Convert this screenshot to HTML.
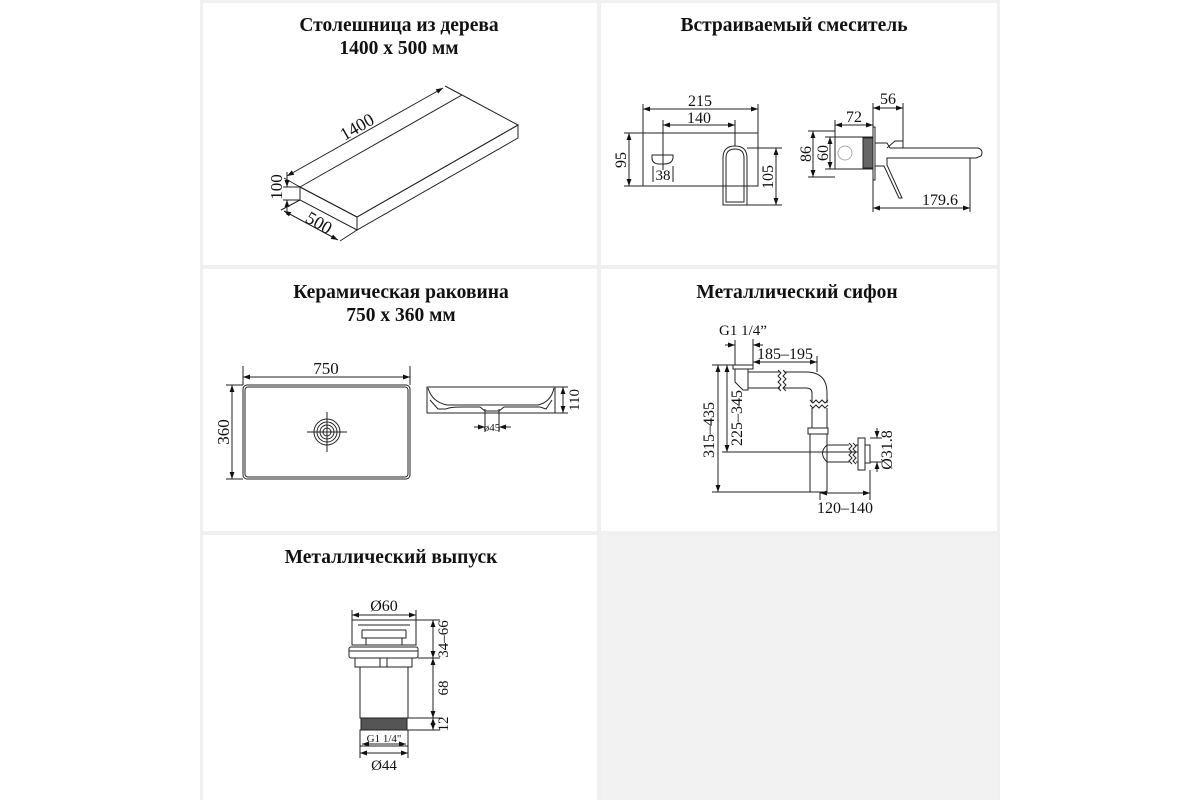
<!DOCTYPE html>
<html><head><meta charset="utf-8"><style>
html,body{margin:0;padding:0;background:#fff;}
svg{display:block}
text{font-family:"Liberation Serif",serif;fill:#111}
.t{font-weight:bold;font-size:19.5px}
.d{font-size:15px}
</style></head><body>
<svg width="1200" height="800" viewBox="0 0 1200 800">
<defs>
<marker id="a" viewBox="0 0 10 10" refX="10" refY="5" markerWidth="7" markerHeight="7" orient="auto-start-reverse"><path d="M0,1.5 L10,5 L0,8.5z" fill="#111"/></marker>
</defs>
<rect x="200" y="0" width="800" height="800" fill="#f0f0f0"/>
<rect x="203" y="3" width="394" height="262" fill="#fff"/>
<rect x="601" y="3" width="396" height="262" fill="#fff"/>
<rect x="203" y="269" width="394" height="262" fill="#fff"/>
<rect x="601" y="269" width="396" height="262" fill="#fff"/>
<rect x="203" y="535" width="394" height="265" fill="#fff"/>
<rect x="601" y="535" width="396" height="265" fill="#f2f2f2"/>

<g class="t" text-anchor="middle">
<text x="399" y="31">Столешница из дерева</text>
<text x="399" y="54">1400 x 500 мм</text>
<text x="794" y="31">Встраиваемый смеситель</text>
<text x="401" y="298">Керамическая раковина</text>
<text x="401" y="321">750 x 360 мм</text>
<text x="797" y="298">Металлический сифон</text>
<text x="391" y="563">Металлический выпуск</text>
</g>

<g fill="none" stroke="#222" stroke-width="1">
<path d="M300,187 L462,95 L518,125 L357,217 Z"/>
<path d="M300,187 L357,217 L357,230 L300,200 Z"/>
<path d="M357,217 L518,125 L518,138 L357,230 Z"/>
<path d="M462,95 L445,86 M300,187 L284,178"/>
<line x1="287" y1="176" x2="443" y2="88" marker-start="url(#a)" marker-end="url(#a)"/>
<path d="M300,187 L283,187 M300,200 L283,200"/>
<line x1="287" y1="172" x2="287" y2="187" marker-end="url(#a)"/>
<line x1="287" y1="215" x2="287" y2="200" marker-end="url(#a)"/>
<path d="M300,200 L281,210 M357,230 L340,241"/>
<line x1="284" y1="211" x2="338" y2="240" marker-start="url(#a)" marker-end="url(#a)"/>

<rect x="643" y="133" width="115" height="53"/>
<path d="M652,155 L673,155 L673,158 Q672,164 664,164 L658,164 Q652,163 652,158 Z"/>
<path d="M723,205 L723,158 Q723,146 735,146 Q747,146 747,158 L747,205 Z"/>
<path d="M726,202 L726,158 Q726,149 735,149 Q744,149 744,158 L744,202 Z"/>
<path d="M643,133 L643,104 M758,133 L758,104 M663,170 L663,120 M735,146 L735,120"/>
<line x1="643" y1="109" x2="758" y2="109" marker-start="url(#a)" marker-end="url(#a)"/>
<line x1="663" y1="125" x2="735" y2="125" marker-start="url(#a)" marker-end="url(#a)"/>
<path d="M643,133 L624,133 M643,186 L624,186"/>
<line x1="629" y1="133" x2="629" y2="186" marker-start="url(#a)" marker-end="url(#a)"/>
<path d="M747,148 L782,148 M747,205 L782,205"/>
<line x1="776" y1="148" x2="776" y2="205" marker-start="url(#a)" marker-end="url(#a)"/>
<path d="M653,166 L653,182 M673,166 L673,182"/>
<rect x="835" y="137" width="38" height="32"/>
<rect x="863" y="138" width="10" height="30" fill="#666"/>
<circle cx="845" cy="153" r="7" stroke="#aaa"/>
<rect x="873" y="127" width="2" height="53"/>
<path d="M875,143 L887,143 L890,148 L978,148 Q984,150 981,156 L976,158 L887,158 L887,165 L902,198 L899,198 L884,166 L875,166"/>
<path d="M887,148 L895,141 L903,141 L903,148"/>
<path d="M835,137 L835,120 M873,127 L873,103 M903,141 L903,103"/>
<line x1="835" y1="125" x2="873" y2="125" marker-start="url(#a)" marker-end="url(#a)"/>
<line x1="873" y1="108" x2="903" y2="108" marker-start="url(#a)" marker-end="url(#a)"/>
<path d="M835,131 L808,131 M835,177 L808,177 M835,137 L825,137 M835,169 L825,169"/>
<line x1="813" y1="131" x2="813" y2="177" marker-start="url(#a)" marker-end="url(#a)"/>
<line x1="830" y1="137" x2="830" y2="169" marker-start="url(#a)" marker-end="url(#a)"/>
<path d="M873,180 L873,212 M970,158 L970,212"/>
<line x1="873" y1="208" x2="970" y2="208" marker-start="url(#a)" marker-end="url(#a)"/>

<rect x="243" y="385" width="167" height="94" rx="4"/>
<rect x="245" y="387" width="163" height="90" rx="3"/>
<circle cx="327" cy="432" r="13"/><circle cx="327" cy="432" r="10"/><circle cx="327" cy="432" r="7"/><circle cx="327" cy="432" r="4"/>
<path d="M307,432 L347,432 M327,412 L327,452"/>
<path d="M243,385 L243,366 M410,385 L410,366"/>
<line x1="243" y1="377" x2="410" y2="377" marker-start="url(#a)" marker-end="url(#a)"/>
<path d="M243,385 L226,385 M243,479 L226,479"/>
<line x1="232" y1="385" x2="232" y2="479" marker-start="url(#a)" marker-end="url(#a)"/>
<path d="M427,387 L555,387 L555,413 L427,413 Z"/>
<path d="M428,388 Q432,402 447,405 L538,405 Q551,402 554,388"/>
<path d="M430,400 L438,409 L446,409 Q450,407 462,407 L480,407 L485,411 L499,411 L504,407 L540,407 L546,409 L552,400"/>
<path d="M555,387 L568,387 M555,413 L568,413"/>
<line x1="563" y1="387" x2="563" y2="413" marker-start="url(#a)" marker-end="url(#a)"/>
<path d="M485,409 L485,432 M499,409 L499,432"/>
<line x1="474" y1="427" x2="485" y2="427" marker-end="url(#a)"/>
<line x1="511" y1="427" x2="499" y2="427" marker-end="url(#a)"/>

<rect x="733" y="365" width="20" height="4"/>
<path d="M735,369 L735,382 L743,390 L748,390 L748,369"/>
<path d="M748,372 L780,372 M748,388 L780,388 M784,372 L806,372 Q827,372 827,393 L827,403 M812,403 L812,393 Q812,388 806,388 L784,388"/>
<path d="M778,370 l3,3 -3,3 3,3 -3,3 3,3 -3,3 3,3 M783,370 l3,3 -3,3 3,3 -3,3 3,3 -3,3 3,3"/>
<path d="M810,400 l3,3 3,-3 3,3 3,-3 3,3 3,-3 M810,405 l3,3 3,-3 3,3 3,-3 3,3 3,-3"/>
<path d="M812,408 L812,428 M827,408 L827,428"/>
<rect x="808" y="428" width="20" height="6"/>
<rect x="810" y="434" width="17" height="58"/>
<path d="M827,445 L849,445 M827,462 L849,462 M827,445 Q818,453 827,462"/>
<path d="M849,443 l3,3 -3,3 3,3 -3,3 3,3 -3,3 3,3 M853,443 l3,3 -3,3 3,3 -3,3 3,3 -3,3 3,3"/>
<path d="M856,445 L858,445 M856,462 L858,462"/>
<rect x="858" y="438" width="7" height="32"/>
<rect x="865" y="445" width="5" height="18"/>
<path d="M733,365 L712,365 M733,452 L722,452 M810,492 L712,492"/>
<line x1="718" y1="365" x2="718" y2="492" marker-start="url(#a)" marker-end="url(#a)"/>
<line x1="727" y1="365" x2="727" y2="452" marker-start="url(#a)" marker-end="url(#a)"/>
<path d="M722,452 L858,452"/>
<path d="M753,365 L753,339 M817,372 L817,356 M735,365 L735,340"/>
<line x1="753" y1="362" x2="817" y2="362" marker-start="url(#a)" marker-end="url(#a)"/>
<line x1="725" y1="345" x2="735" y2="345" marker-end="url(#a)"/>
<line x1="763" y1="345" x2="753" y2="345" marker-end="url(#a)"/>
<path d="M870,438 L882,438 M870,462 L882,462 M820,492 L820,500 M870,470 L870,500"/>
<line x1="877" y1="428" x2="877" y2="438" marker-end="url(#a)"/>
<line x1="877" y1="472" x2="877" y2="462" marker-end="url(#a)"/>
<line x1="820" y1="493" x2="870" y2="493" marker-start="url(#a)" marker-end="url(#a)"/>

<path d="M352,620 L416,620 L416,645 L352,645 Z"/>
<path d="M358,625 L410,625 M362,630 L406,630 M362,630 L362,638 L406,638 L406,630 M366,638 L366,645 M402,638 L402,645"/>
<rect x="349" y="647" width="69" height="11" rx="2"/>
<path d="M349,651 L418,651"/>
<rect x="355" y="658" width="57" height="9"/>
<path d="M380,658 L380,667 M387,658 L387,667"/>
<rect x="360" y="667" width="48" height="51"/>
<rect x="361" y="718" width="46" height="12" fill="#555"/>
<rect x="360" y="730" width="48" height="16"/>
<path d="M352,620 L352,610 M416,620 L416,610"/>
<line x1="352" y1="615" x2="416" y2="615" marker-start="url(#a)" marker-end="url(#a)"/>
<path d="M416,620 L440,620 M418,658 L440,658 M408,718 L440,718 M408,730 L440,730"/>
<line x1="433" y1="620" x2="433" y2="658" marker-start="url(#a)" marker-end="url(#a)"/>
<line x1="433" y1="658" x2="433" y2="718" marker-start="url(#a)" marker-end="url(#a)"/>
<line x1="433" y1="718" x2="433" y2="730" marker-start="url(#a)" marker-end="url(#a)"/>
<line x1="362" y1="744" x2="406" y2="744" marker-start="url(#a)" marker-end="url(#a)"/>
<path d="M360,746 L360,758 M408,746 L408,758"/>
<line x1="360" y1="753" x2="408" y2="753" marker-start="url(#a)" marker-end="url(#a)"/>
</g>

<g class="d" text-anchor="middle">
<text x="0" y="0" transform="translate(360,132) rotate(-30)" font-size="18">1400</text>
<text x="0" y="0" transform="translate(282,187) rotate(-90)" font-size="17">100</text>
<text x="0" y="0" transform="translate(316,228) rotate(30)" font-size="18">500</text>
<text x="700" y="106" font-size="16">215</text>
<text x="699" y="123" font-size="16">140</text>
<text x="663" y="180" font-size="15">38</text>
<text transform="translate(626,160) rotate(-90)" font-size="16">95</text>
<text transform="translate(773,177) rotate(-90)" font-size="16">105</text>
<text x="854" y="122" font-size="16">72</text>
<text x="888" y="104" font-size="16">56</text>
<text transform="translate(811,154) rotate(-90)" font-size="16">86</text>
<text transform="translate(828,153) rotate(-90)" font-size="16">60</text>
<text x="940" y="205" font-size="16">179.6</text>
<text x="326" y="374" font-size="17">750</text>
<text transform="translate(229,432) rotate(-90)" font-size="17">360</text>
<text transform="translate(579,400) rotate(-90)" font-size="15">110</text>
<text x="492" y="431" font-size="11">ø45</text>
<text x="743" y="335" font-size="15">G1 1/4”</text>
<text x="785" y="359" font-size="16">185–195</text>
<text transform="translate(714,430) rotate(-90)" font-size="16">315–435</text>
<text transform="translate(742,418) rotate(-90)" font-size="16">225–345</text>
<text transform="translate(892,450) rotate(-90)" font-size="16">Ø31.8</text>
<text x="845" y="513" font-size="16">120–140</text>
<text x="384" y="611" font-size="16">Ø60</text>
<text transform="translate(448,639) rotate(-90)" font-size="15">34–66</text>
<text transform="translate(448,688) rotate(-90)" font-size="15">68</text>
<text transform="translate(448,724) rotate(-90)" font-size="15">12</text>
<text x="384" y="742" font-size="11">G1 1/4"</text>
<text x="384" y="770" font-size="15">Ø44</text>
</g>
</svg>
</body></html>
